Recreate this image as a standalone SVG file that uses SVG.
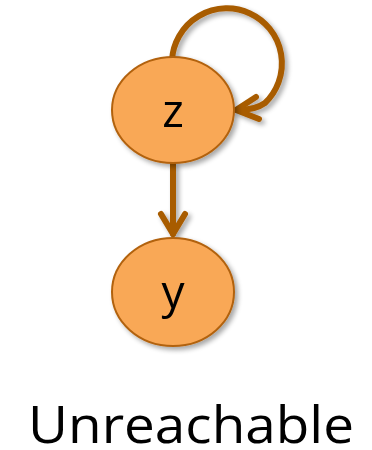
<svg xmlns="http://www.w3.org/2000/svg" width="372" height="450" viewBox="0 0 372 450">
<defs>
<filter id="sh" x="-20%" y="-20%" width="150%" height="150%">
<feGaussianBlur in="SourceAlpha" stdDeviation="2.5"/>
<feOffset dx="3" dy="3" result="b"/>
<feComponentTransfer><feFuncA type="linear" slope="0.35"/></feComponentTransfer>
<feMerge><feMergeNode/><feMergeNode in="SourceGraphic"/></feMerge>
</filter>
</defs>
<style>
.node ellipse{fill:#F9A857;stroke:#B2620F;stroke-width:2}
.lbl{font-family:"Open Sans","Liberation Sans",sans-serif;font-size:46px;fill:#000;text-anchor:middle}
.edge{fill:none;stroke:#A85C04;stroke-width:6;stroke-linecap:round;stroke-linejoin:round}
</style>
<g id="edges" filter="url(#sh)">
<path class="edge" d="M172 60 A55 55 0 1 1 265 103 C258 108 248 110 238 110"/>
<path class="edge" d="M256 97 L236 110 L259 119"/>
<path class="edge" d="M173 164 L173 234"/>
<path class="edge" d="M161 214 L173 234 L185 214"/>
</g>
<g id="z" class="node" filter="url(#sh)">
<ellipse cx="173" cy="110" rx="61" ry="53"/>
<text class="lbl" x="173" y="127">z</text>
</g>
<g id="y" class="node" filter="url(#sh)">
<ellipse cx="173" cy="292" rx="61" ry="54"/>
<text class="lbl" x="173" y="308">y</text>
</g>
<text x="191" y="443" font-family="Open Sans, Liberation Sans, sans-serif" font-size="52" text-anchor="middle" textLength="326" lengthAdjust="spacingAndGlyphs">Unreachable</text>
</svg>
